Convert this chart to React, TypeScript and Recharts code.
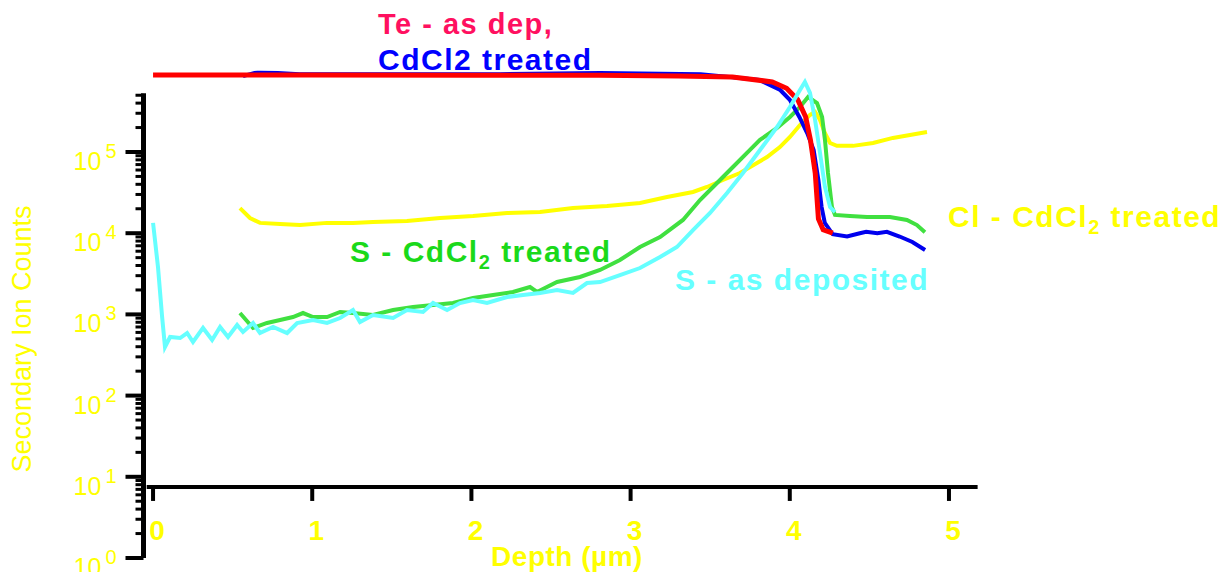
import { LineChart, Line, XAxis, YAxis, ReferenceLine } from 'recharts';

// Depth (µm) and counts
const teDepth = [0, 1.0, 2.0, 2.8, 3.3, 3.64, 3.89, 3.98, 4.05, 4.1, 4.13, 4.16, 4.18, 4.21, 4.27];
const teAsDep = [8.9e5, 8.9e5, 8.8e5, 8.8e5, 8.6e5, 8.4e5, 7.3e5, 6.1e5, 4.4e5, 2.7e5, 1.4e5, 5.5e4, 1.5e4, 1.1e4, 1.0e4];

const teTrDepth = [0.565, 0.66, 0.92, 1.55, 2.18, 2.81, 3.44, 3.81, 3.94, 4.0, 4.06, 4.11, 4.15, 4.18, 4.2, 4.22, 4.27, 4.36, 4.44, 4.48, 4.55, 4.61, 4.69, 4.77, 4.85];
const teTreated = [8.6e5, 9.7e5, 9.1e5, 9.1e5, 9.1e5, 9.4e5, 9.1e5, 7.7e5, 5.8e5, 4.4e5, 2.7e5, 1.7e5, 1.06e5, 4.5e4, 2.1e4, 1.34e4, 9.7e3, 9.1e3, 1.0e4, 1.04e4, 1.0e4, 1.04e4, 9.1e3, 7.8e3, 6.2e3];

const sTrDepth = [0.546, 0.628, 0.716, 0.798, 0.879, 0.942, 1.005, 1.093, 1.175, 1.256, 1.382, 1.508, 1.633, 1.759, 1.884, 2.01, 2.136, 2.261, 2.368, 2.412, 2.538, 2.682, 2.808, 2.933, 3.059, 3.185, 3.329, 3.436, 3.543, 3.643, 3.75, 3.813, 3.92, 4.001, 4.064, 4.115, 4.171, 4.203, 4.221, 4.24, 4.265, 4.284, 4.378, 4.485, 4.629, 4.736, 4.799, 4.849];
const sTreated = [1040, 681, 784, 853, 929, 1040, 929, 929, 1071, 1040, 984, 1133, 1233, 1306, 1381, 1592, 1734, 1888, 2175, 1888, 2505, 2888, 3523, 4678, 6761, 8974, 14550, 25600, 41500, 65300, 106000, 141000, 198000, 270000, 358000, 476000, 401000, 270000, 141000, 55100, 21000, 16800, 16300, 15800, 15800, 14550, 12600, 10300];

const sDepDepth = [0, 0.031, 0.057, 0.075, 0.107, 0.17, 0.214, 0.251, 0.314, 0.371, 0.421, 0.471, 0.528, 0.565, 0.628, 0.672, 0.754, 0.842, 0.905, 1.005, 1.093, 1.175, 1.256, 1.3, 1.382, 1.508, 1.595, 1.696, 1.759, 1.847, 1.928, 2.01, 2.098, 2.224, 2.324, 2.431, 2.538, 2.638, 2.726, 2.808, 2.933, 3.059, 3.185, 3.291, 3.392, 3.499, 3.606, 3.706, 3.813, 3.92, 4.001, 4.064, 4.095, 4.127, 4.159, 4.19, 4.221, 4.253, 4.284];
const sAsDep = [13400, 3834, 929, 397, 527, 512, 590, 457, 681, 484, 700, 527, 740, 607, 784, 590, 700, 590, 784, 853, 784, 903, 1133, 806, 984, 903, 1133, 1071, 1381, 1133, 1381, 1504, 1381, 1638, 1734, 1836, 1997, 1836, 2436, 2505, 3055, 3725, 5088, 6761, 10940, 17740, 31200, 55100, 106000, 203000, 358000, 580000, 728000, 533000, 248000, 97000, 37100, 21000, 18200];

const clDepth = [0.546, 0.609, 0.672, 0.798, 0.923, 1.093, 1.256, 1.382, 1.595, 1.803, 2.01, 2.224, 2.431, 2.638, 2.852, 3.059, 3.229, 3.392, 3.48, 3.58, 3.687, 3.794, 3.857, 3.938, 4.001, 4.064, 4.127, 4.159, 4.19, 4.221, 4.253, 4.296, 4.397, 4.523, 4.648, 4.755, 4.862];
const clTreated = [20400, 15400, 13400, 13000, 12600, 13400, 13400, 13700, 14100, 15400, 16300, 17700, 18300, 20400, 21600, 23600, 27900, 32200, 37100, 45200, 55100, 73200, 86800, 115000, 153000, 215000, 286000, 311000, 248000, 171000, 129000, 119000, 119000, 129000, 149000, 162000, 176000];

const xTicks = [0, 1, 2, 3, 4, 5];
const yTicks = [1, 2, 3, 4, 5, 6, 7, 8, 9, 10, 20, 30, 40, 50, 60, 70, 80, 90, 100, 200, 300, 400, 500, 600, 700, 800, 900, 1000, 2000, 3000, 4000, 5000, 6000, 7000, 8000, 9000, 10000, 20000, 30000, 40000, 50000, 60000, 70000, 80000, 90000, 100000, 200000, 300000, 400000, 500000];

const W = 1211;
const H = 572;
// axes get 1px each (a zero-sized axis is not drawn), so the plot area stays where it was
const MARGIN = { top: 62.8, right: 238.2, bottom: 21, left: 134.5 };
const PLOT_H = H - MARGIN.top - MARGIN.bottom - 1;
const Y_MAX = 1e6;
const X_AXIS_AT = 7.5; // the depth axis crosses the count axis here
const X_AXIS_OFFSET = (PLOT_H * Math.log10(X_AXIS_AT)) / Math.log10(Y_MAX);

const YELLOW = '#ffff00';
const FONT = '"Liberation Sans", Arial, Helvetica, sans-serif';

const toRows = (xs: number[], vs: number[]) => xs.map((x, i) => ({ x, v: vs[i] }));

function YTick(props: any) {
  const { x, y, payload } = props;
  const p = Math.log10(payload.value);
  const major = Math.abs(p - Math.round(p)) < 1e-6;
  return (
    <g>
      <line x1={x - (major ? 18 : 8)} x2={x} y1={y} y2={y} stroke="#000" strokeWidth={major ? 4 : 3} />
      {major && (
        <text x={x - 70} y={y + 18} fill={YELLOW} fontSize={25} fontFamily={FONT}>
          10
          <tspan x={x - 38} dy={-12} fontSize={20}>
            {Math.round(p)}
          </tspan>
        </text>
      )}
    </g>
  );
}

function XTick(props: any) {
  const { x, y, payload } = props;
  const ay = y - X_AXIS_OFFSET;
  return (
    <g>
      <line x1={x} x2={x} y1={ay} y2={ay + 14} stroke="#000" strokeWidth={4} />
      <text x={x + 4} y={ay + 53} textAnchor="middle" fill={YELLOW} fontSize={28} fontWeight="bold" fontFamily={FONT}>
        {payload.value}
      </text>
    </g>
  );
}

export default function App() {
  // negative bottom margin keeps the page from growing past the window
  return (
    <div style={{ position: 'relative', width: W, height: H, marginBottom: -8, background: '#fff' }}>
      <LineChart width={W} height={H} margin={MARGIN}>
        <XAxis
          dataKey="x"
          type="number"
          domain={[-0.06, 5.2]}
          ticks={xTicks}
          interval={0}
          allowDataOverflow
          height={1}
          tickSize={0}
          tickMargin={0}
          axisLine={false}
          tickLine={false}
          tick={<XTick />}
        />
        <YAxis
          type="number"
          scale="log"
          domain={[1, Y_MAX]}
          ticks={yTicks}
          interval={0}
          allowDataOverflow
          width={1}
          tickSize={0}
          tickMargin={0}
          axisLine={false}
          tickLine={false}
          tick={<YTick />}
        />
        <ReferenceLine
          segment={[{ x: -0.06, y: 1 }, { x: -0.06, y: 5.3e5 }]}
          stroke="#000"
          strokeWidth={5}
          ifOverflow="visible"
        />
        <ReferenceLine
          segment={[{ x: -0.04, y: X_AXIS_AT }, { x: 5.18, y: X_AXIS_AT }]}
          stroke="#000"
          strokeWidth={4}
          ifOverflow="visible"
        />
        <Line data={toRows(clDepth, clTreated)} dataKey="v" stroke="#ffff00" strokeWidth={4} dot={false} activeDot={false} isAnimationActive={false} />
        <Line data={toRows(sTrDepth, sTreated)} dataKey="v" stroke="#40e040" strokeWidth={4} dot={false} activeDot={false} isAnimationActive={false} />
        <Line data={toRows(teTrDepth, teTreated)} dataKey="v" stroke="#0000ee" strokeWidth={4} dot={false} activeDot={false} isAnimationActive={false} />
        <Line data={toRows(teDepth, teAsDep)} dataKey="v" stroke="#ff0000" strokeWidth={5} dot={false} activeDot={false} isAnimationActive={false} />
        <Line data={toRows(sDepDepth, sAsDep)} dataKey="v" stroke="#66ffff" strokeWidth={4} dot={false} activeDot={false} isAnimationActive={false} />
      </LineChart>

      <svg
        width={W}
        height={H}
        style={{ position: 'absolute', left: 0, top: 0, pointerEvents: 'none', overflow: 'visible' }}
        fontFamily={FONT}
        fontWeight="bold"
        letterSpacing={1.5}
      >
        <text x={370} y={26} fill="#ff1060" fontSize={29}>Te - as dep,</text>
        <text x={370} y={62} fill="#0000ff" fontSize={30}>CdCl2 treated</text>
        <text x={342} y={254} fill="#1ad91a" fontSize={30}>
          S - CdCl<tspan fontSize={20} dy={7}>2</tspan>
          <tspan dy={-7}> treated</tspan>
        </text>
        <text x={667} y={282} fill="#66ffff" fontSize={30}>S - as deposited</text>
        <text x={940} y={219} fill={YELLOW} fontSize={30}>
          Cl - CdCl<tspan fontSize={20} dy={7}>2</tspan>
          <tspan dy={-7}> treated</tspan>
        </text>
        <text x={559} y={558} textAnchor="middle" fill={YELLOW} fontSize={28} letterSpacing={0.5}>Depth (µm)</text>
        <text
          transform="translate(23, 331) rotate(-90)"
          textAnchor="middle"
          fill={YELLOW}
          fontSize={27}
          fontWeight="normal"
          letterSpacing={0}
        >
          Secondary Ion Counts
        </text>
      </svg>
    </div>
  );
}
